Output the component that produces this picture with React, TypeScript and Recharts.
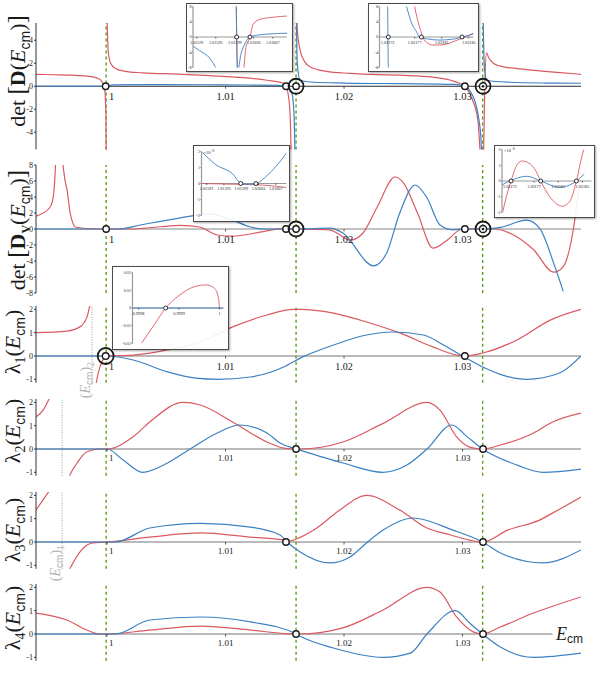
import React from 'react';
import { LineChart, Line, XAxis, YAxis, ReferenceLine, ReferenceDot } from 'recharts';

type Pt = [number, number | null];

const RED = '#da5961';
const BLUE = '#3b81c3';
const GREEN = '#5f9d1e';
const INK = '#1a1a1a';
const SERIF = '"Liberation Serif", "DejaVu Serif", serif';
const SANS = '"Liberation Sans", "DejaVu Sans", sans-serif';

// shared E_cm axis
const xDomain: [number, number] = [0.994, 1.04];
const xTickValues = [1, 1.01, 1.02, 1.03];
const xTickLabels = ['1', '1.01', '1.02', '1.03'];
const thresholds = [0.99992, 1.01595, 1.0317];
const ecm2 = 0.99873;
const ecm1 = 0.9962;

// det[D(E)]
const detDRed: Pt[] = [
  [0.994, 1.04], [0.9955, 1.0], [0.997, 0.96], [0.9983, 0.88], [0.9993, 0.65], [0.99965, 0.25],
  [0.99982, -0.5], [0.9999, -2.5], [0.99993, -7], [0.99995, null],
  [0.99997, 7], [1.0001, 3.0], [1.0003, 2.0], [1.0007, 1.55], [1.0015, 1.3], [1.003, 1.17],
  [1.006, 1.05], [1.009, 0.9], [1.0115, 0.75], [1.0135, 0.52], [1.01488, 0.26], [1.0151, 0],
  [1.0153, -0.8], [1.01545, -2.5], [1.01555, -7], [1.0158, null],
  [1.01598, 7], [1.01605, 5], [1.0163, 3.1], [1.0167, 2.1], [1.0172, 1.65], [1.0185, 1.3],
  [1.0205, 1.12], [1.0247, 0.96], [1.0275, 0.8], [1.029, 0.52], [1.03007, 0.09], [1.0302, 0],
  [1.0306, -0.6], [1.03089, -1.3], [1.0313, -3], [1.0315, -6], [1.0316, -8], [1.03167, null],
  [1.03174, -8], [1.03188, 0], [1.03202, 2.9], [1.0322, 2.5], [1.0326, 2.0], [1.0332, 1.75],
  [1.0345, 1.55], [1.036, 1.38], [1.038, 1.2], [1.04, 1.04],
];
const detDBlue: Pt[] = [
  [0.994, 0], [0.99988, 0], [1.0005, 0.12], [1.005, 0.14], [1.01, 0.12], [1.0145, 0.08],
  [1.0152, 0], [1.0156, -0.6], [1.01578, -2.5], [1.01588, -7], [1.01592, null],
  [1.01597, 7], [1.01605, 2], [1.0163, 0.5], [1.0175, 0.35], [1.02, 0.28], [1.025, 0.22],
  [1.0293, 0.16], [1.0302, 0], [1.0306, -0.35], [1.03135, -2.7], [1.03158, -5], [1.03166, -7],
  [1.03169, null],
  [1.03172, 7], [1.03185, 1.5], [1.03207, 0.5], [1.034, 0.35], [1.037, 0.28], [1.04, 0.26],
];
const detDMarks: [number, string][] = [
  [0.99988, 'o'], [1.0151, 'o'], [1.01595, 'big'], [1.0302, 'o'], [1.03173, 'target'],
];

// det[D_V(E)]
const detDvRed: Pt[] = [
  [0.994, 1.6], [0.9952, 2.75], [0.9955, 4.5], [0.99568, 9], [0.99595, null],
  [0.9962, 9], [0.99646, 6], [0.99662, 4.9], [0.99688, 2.0], [0.9971, 0.8], [0.9973, 0.25],
  [0.9983, 0.05], [0.999, 0], [1.0019, 0], [1.003, 0.08], [1.0045, 0.28], [1.0062, 0.45],
  [1.0078, 0.25], [1.0093, -0.75], [1.0106, -0.9], [1.0129, -0.4], [1.0148, 0.05], [1.0163, 0],
  [1.0188, -0.1], [1.0195, -0.6], [1.0205, -1.4], [1.0216, -0.5], [1.0228, 2.75], [1.0243, 6.5],
  [1.025, 5.8], [1.0262, 2.0], [1.0275, -2.4], [1.0287, -1.4], [1.0298, -0.1], [1.0302, 0],
  [1.0317, 0], [1.0326, 0], [1.0346, -1.0], [1.036, -2.6], [1.0377, -5.4], [1.0385, -4.7],
  [1.0393, -0.5], [1.04, 7.5],
];
const detDvBlue: Pt[] = [
  [0.994, 0], [1.001, 0], [1.0028, 0.5], [1.0062, 1.4], [1.0087, 1.9], [1.0106, 1.1],
  [1.0121, 0.25], [1.0135, 0], [1.0163, 0], [1.0188, 0.1], [1.0199, -0.5], [1.0225, -4.6],
  [1.0236, -3.0], [1.0247, 2.0], [1.026, 5.5], [1.027, 3.9], [1.0281, 0.5], [1.0292, -0.1],
  [1.0302, 0], [1.0317, 0], [1.0332, 0.2], [1.0354, 1.1], [1.0365, 0.1], [1.0377, -4.3],
  [1.0385, -7.8],
];
const detDvMarks: [number, string][] = [
  [0.99992, 'o'], [1.0151, 'o'], [1.01595, 'big'], [1.0302, 'o'], [1.03173, 'target'],
];

// lambda_1
const lam1Red: Pt[] = [
  [0.994, 1.0], [0.9966, 1.07], [0.9977, 1.25], [0.9983, 1.67], [0.99858, 2.25], [0.9988, null],
  [0.99905, -1.3], [0.99913, -1.03], [0.99941, -0.46], [0.99975, -0.08], [1.0, 0], [1.0022, 0.04],
  [1.0051, 0.26], [1.0079, 0.6], [1.0106, 1.25], [1.0135, 1.76], [1.0157, 2.0], [1.0163, 2.0],
  [1.0191, 1.84], [1.0219, 1.46], [1.0247, 0.99], [1.0275, 0.39], [1.0295, 0.04], [1.0302, 0],
  [1.0317, 0.13], [1.0346, 0.69], [1.0374, 1.54], [1.04, 2.0],
];
const lam1Blue: Pt[] = [
  [0.994, 0], [1.0, 0], [1.0022, -0.17], [1.0051, -0.68], [1.0075, -0.95], [1.0093, -1.0],
  [1.0121, -0.9], [1.0149, -0.47], [1.0163, -0.09], [1.0191, 0.47], [1.0219, 0.9], [1.0241, 1.03],
  [1.0267, 0.9], [1.0284, 0.47], [1.03, 0], [1.0317, -0.47], [1.0336, -0.85], [1.0354, -1.0],
  [1.0382, -0.73], [1.04, 0],
];
const lam1Marks: [number, string][] = [[0.99988, 'ring'], [1.0302, 'o']];

// lambda_2
const lam2Red: Pt[] = [
  [0.994, 1.37], [0.9946, 1.67], [0.9952, 2.25], [0.9956, null],
  [0.9968, -1.2], [0.99688, -1.1], [0.99747, -0.6], [0.9983, -0.12], [0.9994, 0], [1.0, 0],
  [1.0022, 0.53], [1.0036, 1.16], [1.0064, 2.0], [1.0078, 1.9], [1.0106, 1.16], [1.0135, 0.3],
  [1.0149, 0.04], [1.01595, 0], [1.0163, 0], [1.0199, 0.3], [1.0233, 1.1], [1.027, 2.0],
  [1.0281, 1.67], [1.0295, 0.52], [1.0306, 0.08], [1.0317, 0], [1.0332, 0.17], [1.036, 0.69],
  [1.0376, 1.16], [1.04, 1.54],
];
const lam2Blue: Pt[] = [
  [0.994, 0], [1.0, 0], [1.0013, -0.45], [1.003, -1.0], [1.0051, -0.6], [1.007, 0],
  [1.0093, 0.69], [1.0112, 1.03], [1.0135, 0.69], [1.0146, 0.26], [1.0157, 0.04], [1.01595, 0],
  [1.0199, -0.6], [1.0233, -1.0], [1.0253, -0.69], [1.027, 0], [1.0291, 1.03], [1.0304, 0.52],
  [1.0317, 0], [1.0346, -0.69], [1.0368, -1.0], [1.04, -0.86],
];
const lam2Marks: [number, string][] = [[1.01595, 'o'], [1.03173, 'o']];

// lambda_3
const lam3Red: Pt[] = [
  [0.994, 1.37], [0.9952, 2.25], [0.9956, null],
  [0.9968, -1.2], [0.9977, -0.43], [0.9988, -0.04], [1.0, 0], [1.0036, 0.21], [1.0079, 0.39],
  [1.0121, 0.21], [1.0149, 0.09], [1.0152, 0.02], [1.0163, 0.2], [1.0177, 0.6], [1.0197, 1.4],
  [1.0219, 2.0], [1.0247, 1.37], [1.027, 0.6], [1.029, 0.3], [1.0306, 0.08], [1.0317, 0],
  [1.0338, 0.51], [1.0365, 0.94], [1.0376, 1.24], [1.04, 1.93],
];
const lam3Blue: Pt[] = [
  [0.994, 0], [1.0007, 0], [1.0036, 0.6], [1.0079, 0.8], [1.0121, 0.64], [1.0146, 0.3],
  [1.0152, 0], [1.0163, -0.43], [1.0188, -0.9], [1.0205, -0.64], [1.0219, -0.04], [1.0233, 0.51],
  [1.0258, 1.03], [1.0292, 0.51], [1.0317, 0], [1.0332, -0.47], [1.0368, -0.9], [1.04, -0.34],
];
const lam3Marks: [number, string][] = [[1.0151, 'o'], [1.03173, 'o']];

// lambda_4
const lam4Red: Pt[] = [
  [0.994, 0.9], [0.9966, 0.6], [0.9983, 0.17], [0.9994, 0], [1.0, 0], [1.0036, 0.17],
  [1.0079, 0.34], [1.0121, 0.17], [1.015, 0.02], [1.01595, 0], [1.0163, 0], [1.0199, 0.26],
  [1.0233, 1.03], [1.027, 2.0], [1.0281, 1.8], [1.0295, 0.73], [1.0309, 0.09], [1.0317, 0],
  [1.0332, 0.3], [1.036, 0.9], [1.04, 1.59],
];
const lam4Blue: Pt[] = [
  [0.994, 0], [1.0007, 0], [1.0036, 0.6], [1.0079, 0.73], [1.0121, 0.52], [1.01595, 0],
  [1.0163, -0.1], [1.0191, -0.6], [1.0233, -1.0], [1.0256, -0.82], [1.027, 0], [1.0294, 1.0],
  [1.0306, 0.47], [1.0317, 0], [1.0332, -0.56], [1.036, -1.0], [1.04, -0.82],
];
const lam4Marks: [number, string][] = [[1.01595, 'o'], [1.03173, 'o']];

// insets
const insetATicks = [1.01591, 1.01595, 1.01599, 1.01603, 1.01607];
const insetBTicks = [1.03173, 1.03177, 1.03181, 1.03185];
const insetETicks = [0.9998, 0.9999, 1];
const insetARed: Pt[] = [
  [1.015993, 9], [1.015996, -9], [1.016008, -9], [1.016013, -3], [1.016022, 0], [1.016029, 3.4],
  [1.016045, 4.7], [1.016072, 5.2], [1.0161, 5.5],
];
const insetABlue: Pt[] = [
  [1.015902, -2.4], [1.015916, -3.6], [1.015937, -5.5], [1.015952, -8.5], [1.01596, null],
  [1.015993, 9], [1.015996, -9], [1.016003, -4.5], [1.016011, -1.8], [1.016022, 0],
  [1.016038, 0.5], [1.016064, 0.8], [1.0161, 1.0],
];
const insetAMarks = [1.015994, 1.016022];
const insetBRed: Pt[] = [
  [1.031768, 10], [1.03177, 8], [1.031774, 4.7], [1.031779, 1.6], [1.031782, 0], [1.031789, -1.6],
  [1.031797, -2.1], [1.031807, -2.1], [1.031822, -1.6], [1.031837, -0.5], [1.031846, 0],
  [1.031854, 0.8], [1.031857, 1.0],
];
const insetBBlue: Pt[] = [
  [1.03173, 9], [1.031731, -9], [1.031735, null],
  [1.031755, 10], [1.031758, 8], [1.031766, 3.4], [1.031773, 1.3], [1.031777, 0],
  [1.031789, -0.5], [1.031807, -0.8], [1.031829, -0.5], [1.03184, 0], [1.031851, 0.5], [1.031857, 0.8],
];
const insetBMarks = [1.031731, 1.03178, 1.03184];
const insetCRed: Pt[] = [[1.015898, 0], [1.01598, -0.05], [1.01604, -0.1], [1.016095, -0.25]];
const insetCBlue: Pt[] = [
  [1.0159, 1.95], [1.01593, 1.2], [1.01597, 0.6], [1.01599, 0], [1.016005, -0.05], [1.016024, 0],
  [1.01605, 0.5], [1.01607, 1.05], [1.016095, 1.9],
];
const insetCMarks = [1.015989, 1.016024];
const insetDRed: Pt[] = [
  [1.031718, -2.0], [1.031727, -0.6], [1.031732, 0], [1.03174, 0.9], [1.03175, 1.27], [1.031763, 1.1],
  [1.031773, 0.64], [1.031781, 0], [1.031796, -1.0], [1.031817, -1.6], [1.031829, -1.3],
  [1.03184, 0], [1.03185, 1.7], [1.031855, 2.3],
];
const insetDBlue: Pt[] = [
  [1.031717, -0.25], [1.03173, 0], [1.031758, 0.3], [1.031781, 0], [1.031812, -0.4], [1.03184, 0],
  [1.031853, 0.45],
];
const insetDMarks = [1.031732, 1.031781, 1.03184];
const insetERed: Pt[] = [
  [0.999807, -0.02], [0.99984, -0.009], [0.999867, 0], [0.9999, 0.007], [0.999938, 0.012],
  [0.999968, 0.013], [0.999988, 0.011], [0.999998, 0.005], [1.0, 0],
];
const insetEBlue: Pt[] = [[0.999785, 0], [1.00001, 0]];
const insetEMarks = [0.999867];

const toRows = (pts: Pt[]) => pts.map(([x, y]) => ({ x, y }));

const Title = (props: any) => {
  const { tx, ty, size, node } = props;
  return (
    <text x={tx} y={ty} transform={`rotate(-90 ${tx} ${ty})`} textAnchor="middle"
      fontFamily={SERIF} fontSize={size} fill={INK}>{node}</text>
  );
};

const EcmLabel = (props: any) => {
  const { viewBox, sub, ty } = props;
  const tx = (viewBox && viewBox.x != null ? viewBox.x : 0) - 2;
  return (
    <text x={tx} y={ty} transform={`rotate(-90 ${tx} ${ty})`} textAnchor="middle"
      fontFamily={SERIF} fontSize={14} fill="#b4b4b4">
      (<tspan fontStyle="italic">E</tspan><tspan fontFamily={SANS} fontSize={10} dy={3}>cm</tspan>
      <tspan dy={-3}>)</tspan><tspan fontSize={10} dy={4}>{sub}</tspan>
    </text>
  );
};

const markShape = (kind: string, small = false) => (p: any) => {
  const { cx, cy } = p;
  if (small) return <circle cx={cx} cy={cy} r={2} fill="#fff" stroke={INK} strokeWidth={0.9} />;
  if (kind === 'big') {
    return (
      <g>
        <circle cx={cx} cy={cy} r={7.5} fill="none" stroke={INK} strokeWidth={1.8} />
        <circle cx={cx} cy={cy} r={3.2} fill="#fff" stroke={INK} strokeWidth={1.4} />
      </g>
    );
  }
  if (kind === 'target') {
    return (
      <g>
        <circle cx={cx} cy={cy} r={7.5} fill="none" stroke={INK} strokeWidth={1.8} />
        <circle cx={cx} cy={cy} r={3.6} fill="#fff" stroke={INK} strokeWidth={1.5} />
        <circle cx={cx} cy={cy} r={1.3} fill={INK} />
      </g>
    );
  }
  if (kind === 'ring') {
    return (
      <g>
        <circle cx={cx} cy={cy} r={8} fill="none" stroke={INK} strokeWidth={1.8} />
        <circle cx={cx} cy={cy} r={3.3} fill="#fff" stroke={INK} strokeWidth={1.4} />
      </g>
    );
  }
  return <circle cx={cx} cy={cy} r={3.2} fill="#fff" stroke={INK} strokeWidth={1.4} />;
};

const xTickShape = (label: string, fontSize: number, dy: number, dx: number, tick: number) => (p: any) => (
  <g>
    <line x1={p.cx} x2={p.cx} y1={p.cy} y2={p.cy + tick} stroke="#333" strokeWidth={0.8} />
    <text x={p.cx + dx} y={p.cy + dy} textAnchor={dx ? 'start' : 'middle'} fontFamily={SERIF}
      fontSize={fontSize} fill={INK}>{label}</text>
  </g>
);

const ecmShape = (p: any) => (
  <text x={p.cx + 2} y={p.cy + 6} textAnchor="end" fontFamily={SERIF} fontSize={18} fill={INK}>
    <tspan fontStyle="italic">E</tspan><tspan fontFamily={SANS} fontSize={12} dy={3}>cm</tspan>
  </text>
);

const cmSub = (size: number) => (
  <>
    <tspan fontStyle="italic">E</tspan>
    <tspan fontFamily={SANS} fontSize={size} dy={5}>cm</tspan>
  </>
);

const titleDetD = (
  <>
    {'det '}<tspan fontSize={25}>[</tspan><tspan fontWeight="bold">D</tspan>(
    {cmSub(14)}<tspan dy={-5}>)</tspan><tspan fontSize={25}>]</tspan>
  </>
);
const titleDetDv = (
  <>
    {'det '}<tspan fontSize={25}>[</tspan><tspan fontWeight="bold">D</tspan>
    <tspan fontWeight="bold" fontSize={12} dy={5}>V</tspan><tspan dy={-5}>(</tspan>
    {cmSub(14)}<tspan dy={-5}>)</tspan><tspan fontSize={25}>]</tspan>
  </>
);
const titleLam = (n: string) => (
  <>
    λ<tspan fontSize={14} dy={5}>{n}</tspan><tspan dy={-5}>(</tspan>
    {cmSub(14)}<tspan dy={-5}>)</tspan>
  </>
);

type PanelCfg = {
  top: number; height: number; mt: number; mb: number;
  yDomain: [number, number]; yTicks: number[];
  red: Pt[]; blue: Pt[]; marks: [number, string][];
  title: React.ReactNode; titleX: number; titleY: number; titleSize: number;
  tickFont: number; tickDy: number; zero: string;
  dotted?: { x: number; sub?: string; ty?: number };
  zeroEnd?: number;
};

const renderPanel = (c: PanelCfg, key: string) => (
  <div key={key} style={{ position: 'absolute', left: 0, top: c.top }}>
    <LineChart width={598} height={c.height} margin={{ top: c.mt, bottom: c.mb, left: 6, right: 17 }}>
      <XAxis type="number" dataKey="x" domain={xDomain} allowDataOverflow hide />
      <YAxis type="number" domain={c.yDomain} ticks={c.yTicks} allowDataOverflow interval={0} width={30}
        tick={{ fontSize: 8, fontFamily: SERIF, fill: '#222' }} tickSize={2} tickMargin={1}
        axisLine={{ stroke: '#333' }} tickLine={{ stroke: '#333' }}
        label={<Title tx={c.titleX} ty={c.titleY} size={c.titleSize} node={c.title} />} />
      {c.zeroEnd != null ? (
        <ReferenceLine segment={[{ x: xDomain[0], y: 0 }, { x: c.zeroEnd, y: 0 }]} stroke={c.zero} strokeWidth={1.2} />
      ) : (
        <ReferenceLine y={0} stroke={c.zero} strokeWidth={1.2} />
      )}
      {thresholds.map((t) => (
        <ReferenceLine key={'g' + t} x={t} stroke={GREEN} strokeWidth={1.4} strokeDasharray="3 3" />
      ))}
      {c.dotted && (
        <ReferenceLine x={c.dotted.x} stroke="#9a9a9a" strokeWidth={1} strokeDasharray="1 1.5"
          label={c.dotted.sub ? <EcmLabel sub={c.dotted.sub} ty={c.dotted.ty} /> : undefined} />
      )}
      <Line data={toRows(c.red)} dataKey="y" type="monotone" stroke={RED} strokeWidth={1.2}
        dot={false} isAnimationActive={false} connectNulls={false} />
      <Line data={toRows(c.blue)} dataKey="y" type="monotone" stroke={BLUE} strokeWidth={1.2}
        dot={false} isAnimationActive={false} connectNulls={false} />
      {xTickValues.map((t, i) => (
        <ReferenceDot key={'t' + t} x={t} y={0} r={0}
          shape={xTickShape(xTickLabels[i], c.tickFont, c.tickDy, i === 0 ? 2 : 0, 2.5)} />
      ))}
      {c.marks.map(([x, k]) => (
        <ReferenceDot key={'m' + x} x={x} y={0} r={3} shape={markShape(k)} />
      ))}
      {c.zeroEnd != null && <ReferenceDot x={xDomain[1]} y={0} r={0} shape={ecmShape} />}
    </LineChart>
  </div>
);

const lamDomain: [number, number] = [-1.15, 2.15];
const lamTicks = [-1, 0, 1, 2];

const panels: PanelCfg[] = [
  { top: 0, height: 158, mt: 23, mb: 8.5, yDomain: [-5.5, 5.5], yTicks: [-4, -2, 0, 2, 4],
    red: detDRed, blue: detDBlue, marks: detDMarks, title: titleDetD, titleX: 25, titleY: 71, titleSize: 22,
    tickFont: 10.5, tickDy: 14, zero: '#2a2a2a' },
  { top: 158, height: 142, mt: 7, mb: 7, yDomain: [-8, 8], yTicks: [-8, -6, -4, -2, 0, 2, 4, 6, 8],
    red: detDvRed, blue: detDvBlue, marks: detDvMarks, title: titleDetDv, titleX: 25, titleY: 72, titleSize: 22,
    tickFont: 10.5, tickDy: 14, zero: '#888' },
  { top: 300, height: 100, mt: 5.9, mb: 17.2, yDomain: lamDomain, yTicks: lamTicks,
    red: lam1Red, blue: lam1Blue, marks: lam1Marks, title: titleLam('1'), titleX: 20, titleY: 42, titleSize: 22,
    tickFont: 10, tickDy: 14, zero: '#777', dotted: { x: ecm2, sub: '2', ty: 80 } },
  { top: 393, height: 100, mt: 5.9, mb: 17.2, yDomain: lamDomain, yTicks: lamTicks,
    red: lam2Red, blue: lam2Blue, marks: lam2Marks, title: titleLam('2'), titleX: 20, titleY: 38, titleSize: 22,
    tickFont: 9, tickDy: 12, zero: '#777', dotted: { x: ecm1 } },
  { top: 486, height: 100, mt: 5.9, mb: 17.2, yDomain: lamDomain, yTicks: lamTicks,
    red: lam3Red, blue: lam3Blue, marks: lam3Marks, title: titleLam('3'), titleX: 20, titleY: 44, titleSize: 22,
    tickFont: 9, tickDy: 12, zero: '#777', dotted: { x: ecm1, sub: '1', ty: 77 } },
  { top: 578, height: 100, mt: 5.9, mb: 17.2, yDomain: lamDomain, yTicks: lamTicks,
    red: lam4Red, blue: lam4Blue, marks: lam4Marks, title: titleLam('4'), titleX: 20, titleY: 40, titleSize: 22,
    tickFont: 9, tickDy: 12, zero: '#777', zeroEnd: 1.0376 },
];

type InsetCfg = {
  left: number; top: number; width: number; height: number;
  margin: { top: number; right: number; bottom: number };
  yWidth: number; xDomain: [number, number]; yDomain: [number, number];
  yTicks: number[]; yFormat?: (v: number) => string;
  xTicks: number[]; red: Pt[]; blue: Pt[]; marks: number[]; note?: boolean;
};

const SciNote = (props: any) => (
  <text x={props.tx} y={props.ty} fontFamily={SERIF} fontSize={4.5} fill="#333">
    ×10<tspan dy={-2} fontSize={3.5}>−8</tspan>
  </text>
);

const renderInset = (c: InsetCfg, key: string) => {
  const b = 1.5;
  return (
    <div key={key} style={{
      position: 'absolute', left: c.left, top: c.top, width: c.width, height: c.height,
      boxSizing: 'border-box', border: `${b}px solid #4a4a4a`, background: 'rgba(255,255,255,0.9)',
      boxShadow: '1px 1px 2px rgba(0,0,0,0.35)',
    }}>
      <LineChart width={c.width - 2 * b} height={c.height - 2 * b}
        margin={{ top: c.margin.top, right: c.margin.right, bottom: c.margin.bottom, left: 0 }}>
        <XAxis type="number" dataKey="x" domain={c.xDomain} allowDataOverflow hide />
        <YAxis type="number" domain={c.yDomain} ticks={c.yTicks} allowDataOverflow interval={0} width={c.yWidth}
          tickFormatter={c.yFormat} tick={{ fontSize: 4.2, fontFamily: SERIF, fill: '#333' }}
          tickSize={1.2} tickMargin={0.3} axisLine={{ stroke: '#999', strokeWidth: 1.2 }} tickLine={{ stroke: '#999' }}
          label={c.note ? <SciNote tx={c.yWidth + 2} ty={c.margin.top + 2} /> : undefined} />
        <ReferenceLine y={0} stroke="#999" strokeWidth={1.2} />
        <Line data={toRows(c.red)} dataKey="y" type="monotone" stroke={RED} strokeWidth={0.9}
          dot={false} isAnimationActive={false} connectNulls={false} />
        <Line data={toRows(c.blue)} dataKey="y" type="monotone" stroke={BLUE} strokeWidth={0.9}
          dot={false} isAnimationActive={false} connectNulls={false} />
        {c.xTicks.map((t) => (
          <ReferenceDot key={'t' + t} x={t} y={0} r={0} shape={xTickShape(String(t), 4.2, 6.5, 0, 1.5)} />
        ))}
        {c.marks.map((x) => (
          <ReferenceDot key={'m' + x} x={x} y={0} r={2} shape={markShape('o', true)} />
        ))}
      </LineChart>
    </div>
  );
};

const insets: InsetCfg[] = [
  { left: 185.5, top: 3, width: 107.5, height: 69, margin: { top: 2.5, right: 4.5, bottom: 2.5 }, yWidth: 6,
    xDomain: [1.015902, 1.0161], yDomain: [-8, 8], yTicks: [-8, -4, 0, 4, 8], xTicks: insetATicks,
    red: insetARed, blue: insetABlue, marks: insetAMarks },
  { left: 368, top: 3, width: 111, height: 69, margin: { top: 2.5, right: 3.5, bottom: 2.5 }, yWidth: 10.5,
    xDomain: [1.031718, 1.031857], yDomain: [-8, 8], yTicks: [-8, -4, 0, 4, 8], xTicks: insetBTicks,
    red: insetBRed, blue: insetBBlue, marks: insetBMarks },
  { left: 193, top: 145, width: 97, height: 77, margin: { top: 5.5, right: 1.5, bottom: 4.5 }, yWidth: 7.5,
    xDomain: [1.015898, 1.016095], yDomain: [-2, 2], yTicks: [-2, -1, 0, 1, 2], xTicks: insetATicks,
    red: insetCRed, blue: insetCBlue, marks: insetCMarks, note: true },
  { left: 494, top: 145, width: 101, height: 73, margin: { top: 3.5, right: 1.5, bottom: 3.5 }, yWidth: 7,
    xDomain: [1.031717, 1.031865], yDomain: [-2, 2], yTicks: [-2, -1, 0, 1, 2], xTicks: insetBTicks,
    red: insetDRed, blue: insetDBlue, marks: insetDMarks, note: true },
  { left: 112, top: 266, width: 117, height: 84, margin: { top: 5.5, right: 3.5, bottom: 4.5 }, yWidth: 19.5,
    xDomain: [0.999785, 1.00001], yDomain: [-0.02, 0.02], yTicks: [-0.02, -0.01, 0, 0.01, 0.02],
    yFormat: (v: number) => (v === 0 ? '0' : String(v)), xTicks: insetETicks,
    red: insetERed, blue: insetEBlue, marks: insetEMarks },
];

export default function App() {
  return (
    <div style={{ position: 'absolute', left: 0, top: 0, width: 598, height: 679, background: '#fff', overflow: 'hidden' }}>
      {panels.map((p, i) => renderPanel(p, 'p' + i))}
      {insets.map((c, i) => renderInset(c, 'i' + i))}
    </div>
  );
}
